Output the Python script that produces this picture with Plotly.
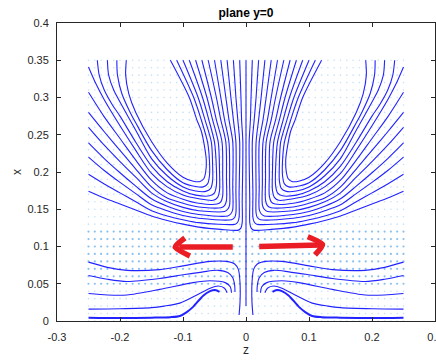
import numpy as np
import plotly.graph_objects as go

# ---------------- data (left half, z < 0) ----------------
# Upper family: U-shaped streamlines (left arm -> bottom -> right arm to top centre)
U1 = [(-0.190,0.350),(-0.191,0.330),(-0.186,0.305),(-0.175,0.280),(-0.150,0.241),(-0.125,0.212),(-0.100,0.193),(-0.085,0.188),(-0.074,0.187),(-0.067,0.191),(-0.064,0.200),(-0.063,0.215),(-0.066,0.235),(-0.071,0.255),(-0.078,0.270),(-0.090,0.300),(-0.120,0.350)]
U2 = [(-0.205,0.350),(-0.204,0.330),(-0.197,0.305),(-0.185,0.282),(-0.175,0.266),(-0.150,0.229),(-0.125,0.203),(-0.100,0.1855),(-0.080,0.1805),(-0.068,0.180),(-0.061,0.184),(-0.058,0.195),(-0.058,0.215),(-0.061,0.240),(-0.071,0.270),(-0.083,0.300),(-0.110,0.350)]
U3 = [(-0.220,0.350),(-0.218,0.330),(-0.210,0.310),(-0.200,0.294),(-0.175,0.256),(-0.150,0.218),(-0.125,0.195),(-0.100,0.180),(-0.080,0.1745),(-0.064,0.174),(-0.056,0.178),(-0.053,0.188),(-0.053,0.210),(-0.055,0.240),(-0.065,0.270),(-0.076,0.300),(-0.100,0.350)]
U4 = [(-0.236,0.350),(-0.233,0.330),(-0.225,0.310),(-0.212,0.290),(-0.200,0.275),(-0.175,0.240),(-0.150,0.208),(-0.125,0.187),(-0.100,0.1745),(-0.080,0.169),(-0.058,0.168),(-0.050,0.172),(-0.047,0.182),(-0.047,0.205),(-0.050,0.240),(-0.059,0.270),(-0.069,0.300),(-0.090,0.350)]
U5 = [(-0.250,0.341),(-0.238,0.318),(-0.225,0.297),(-0.200,0.262),(-0.175,0.229),(-0.150,0.198),(-0.125,0.180),(-0.100,0.169),(-0.075,0.164),(-0.052,0.162),(-0.045,0.166),(-0.042,0.175),(-0.042,0.200),(-0.044,0.240),(-0.053,0.270),(-0.062,0.300),(-0.080,0.350)]
U6 = [(-0.250,0.307),(-0.225,0.274),(-0.200,0.245),(-0.175,0.216),(-0.150,0.189),(-0.125,0.172),(-0.100,0.1635),(-0.075,0.158),(-0.046,0.157),(-0.040,0.160),(-0.037,0.168),(-0.037,0.195),(-0.038,0.240),(-0.047,0.270),(-0.055,0.300),(-0.070,0.350)]
U7 = [(-0.250,0.280),(-0.225,0.254),(-0.200,0.229),(-0.175,0.204),(-0.150,0.180),(-0.125,0.165),(-0.100,0.158),(-0.075,0.153),(-0.040,0.152),(-0.034,0.155),(-0.031,0.162),(-0.031,0.190),(-0.032,0.240),(-0.040,0.270),(-0.047,0.300),(-0.060,0.350)]
U8 = [(-0.250,0.260),(-0.225,0.236),(-0.200,0.214),(-0.175,0.193),(-0.150,0.172),(-0.125,0.160),(-0.100,0.1525),(-0.075,0.148),(-0.034,0.147),(-0.029,0.150),(-0.026,0.156),(-0.026,0.185),(-0.027,0.240),(-0.034,0.270),(-0.040,0.300),(-0.050,0.350)]
U9 = [(-0.250,0.239),(-0.225,0.218),(-0.200,0.199),(-0.175,0.181),(-0.150,0.164),(-0.125,0.154),(-0.100,0.147),(-0.075,0.143),(-0.029,0.141),(-0.024,0.144),(-0.021,0.150),(-0.021,0.180),(-0.021,0.240),(-0.027,0.270),(-0.032,0.300),(-0.040,0.350)]
U10 = [(-0.250,0.220),(-0.225,0.202),(-0.200,0.186),(-0.175,0.171),(-0.150,0.156),(-0.125,0.148),(-0.100,0.1415),(-0.075,0.138),(-0.023,0.136),(-0.018,0.139),(-0.016,0.145),(-0.016,0.175),(-0.016,0.240),(-0.020,0.270),(-0.024,0.300),(-0.030,0.350)]
U11 = [(-0.250,0.197),(-0.225,0.184),(-0.200,0.172),(-0.175,0.160),(-0.150,0.148),(-0.125,0.141),(-0.100,0.136),(-0.075,0.132),(-0.017,0.130),(-0.013,0.133),(-0.011,0.139),(-0.011,0.170),(-0.010,0.240),(-0.013,0.270),(-0.016,0.300),(-0.020,0.350)]
U12 = [(-0.250,0.174),(-0.225,0.165),(-0.200,0.157),(-0.175,0.149),(-0.150,0.141),(-0.125,0.135),(-0.100,0.130),(-0.075,0.126),(-0.040,0.123),(-0.012,0.122),(-0.008,0.125),(-0.006,0.132),(-0.006,0.160),(-0.005,0.240),(-0.007,0.270),(-0.008,0.300),(-0.010,0.350)]

# Central vertical streamline
CENTER = [(0.0,0.350),(0.0,0.020)]

# Lower family: streamlines from the side edge towards the centre
L1 = [(-0.250,0.079),(-0.220,0.072),(-0.189,0.068),(-0.137,0.069),(-0.100,0.074),(-0.057,0.080),(-0.031,0.080),(-0.018,0.0765),(-0.012,0.069),(-0.0095,0.051),(-0.0095,0.025),(-0.011,0.008)]
L2 = [(-0.250,0.061),(-0.220,0.056),(-0.189,0.053),(-0.137,0.057),(-0.100,0.062),(-0.068,0.066),(-0.044,0.068),(-0.029,0.065),(-0.021,0.058),(-0.018,0.048),(-0.0175,0.039)]
L3 = [(-0.250,0.037),(-0.220,0.035),(-0.189,0.035),(-0.137,0.0425),(-0.084,0.0515),(-0.057,0.054),(-0.033,0.0515),(-0.025,0.046),(-0.023,0.038)]
L4 = [(-0.250,0.016),(-0.200,0.0165),(-0.150,0.018),(-0.130,0.020),(-0.105,0.024),(-0.078,0.035),(-0.057,0.044),(-0.044,0.047),(-0.034,0.044),(-0.030,0.038)]
L5 = [(-0.250,0.0045),(-0.200,0.004),(-0.150,0.0045),(-0.120,0.0052),(-0.105,0.0068),(-0.094,0.012),(-0.084,0.019),(-0.068,0.034),(-0.057,0.040),(-0.049,0.0415),(-0.042,0.039)]

# Quiver grid (velocity arrows are too small to read; drawn as dots)
QUIVER_Z = [round(v, 2) for v in np.arange(-0.25, 0.2501, 0.01)]
QUIVER_X = [round(v, 2) for v in np.arange(0.0, 0.3501, 0.01)]
BAND_X = [0.05, 0.06, 0.07, 0.08, 0.09, 0.10, 0.11, 0.12]

# Red annotation arrows (hand drawn): shaft and head polylines
ARROW_L_SHAFT = [(-0.021,0.0993),(-0.106,0.0993)]
ARROW_L_HEAD = [(-0.097,0.1114),(-0.1125,0.0993),(-0.089,0.0872)]
ARROW_R_SHAFT = [(0.021,0.1000),(0.118,0.1020)]
ARROW_R_HEAD = [(0.098,0.1130),(0.1215,0.1025),(0.1095,0.0886)]

X_TICKS = [-0.3, -0.2, -0.1, 0, 0.1, 0.2, 0.3]
X_TICK_LABELS = ["-0.3", "-0.2", "-0.1", "0", "0.1", "0.2", "0.3"]
Y_TICKS = [0, 0.05, 0.1, 0.15, 0.2, 0.25, 0.3, 0.35, 0.4]
Y_TICK_LABELS = ["0", "0.05", "0.1", "0.15", "0.2", "0.25", "0.3", "0.35", "0.4"]

# ---------------- figure ----------------
BLUE = "rgb(35,35,255)"
fig = go.Figure()

qz, qx, bz, bx = [], [], [], []
for xv in QUIVER_X:
    for zv in QUIVER_Z:
        if xv in BAND_X:
            bz.append(zv); bx.append(xv)
        else:
            qz.append(zv); qx.append(xv)
fig.add_trace(go.Scatter(x=qz, y=qx, mode="markers",
                         marker=dict(size=1.6, color="rgba(110,180,235,0.4)"),
                         hoverinfo="skip", showlegend=False))
fig.add_trace(go.Scatter(x=bz, y=bx, mode="markers",
                         marker=dict(size=2.2, color="rgba(60,150,225,0.6)"),
                         hoverinfo="skip", showlegend=False))

def add_line(pts, width=1.1, mirror=True):
    zs = [p[0] for p in pts]
    xs = [p[1] for p in pts]
    fig.add_trace(go.Scatter(x=zs, y=xs, mode="lines",
                             line=dict(color=BLUE, width=width, shape="spline", smoothing=0.8),
                             hoverinfo="skip", showlegend=False))
    if mirror:
        fig.add_trace(go.Scatter(x=[-z for z in zs], y=xs, mode="lines",
                                 line=dict(color=BLUE, width=width, shape="spline", smoothing=0.8),
                                 hoverinfo="skip", showlegend=False))

for line in [U1, U2, U3, U4, U5, U6, U7, U8, U9, U10, U11, U12, L1, L2, L3, L4]:
    add_line(line)
add_line(L5, width=2.0)
add_line(CENTER, mirror=False)

RED = "#ea1c24"
for pts in [ARROW_L_SHAFT, ARROW_L_HEAD, ARROW_R_SHAFT, ARROW_R_HEAD]:
    fig.add_trace(go.Scatter(x=[p[0] for p in pts], y=[p[1] for p in pts], mode="lines",
                             line=dict(color=RED, width=5.5, shape="spline", smoothing=0.6),
                             hoverinfo="skip", showlegend=False))

FONT = "Liberation Sans, Arial, Helvetica, sans-serif"
axis_common = dict(showgrid=False, zeroline=False, showline=True, linecolor="#262626",
                   linewidth=1, mirror="ticks", ticks="inside", ticklen=4,
                   tickcolor="#262626", tickwidth=1, automargin=False,
                   ticklabeloverflow="allow",
                   tickfont=dict(family=FONT, size=11, color="#262626"))
fig.update_layout(
    width=436, height=360,
    margin=dict(l=57, r=1, t=23, b=39, autoexpand=False),
    paper_bgcolor="white", plot_bgcolor="white",
    title=dict(text="<b>plane y=0</b>", x=0.5, xref="paper", xanchor="center",
               y=1 - 12.5 / 360, yref="container", yanchor="middle",
               font=dict(family=FONT, size=12, color="black")),
    xaxis=dict(range=[-0.3, 0.3], tickvals=X_TICKS, ticktext=X_TICK_LABELS,
               ticklabelstandoff=6,
               title=dict(text="z", font=dict(family=FONT, size=12, color="#262626"), standoff=2),
               **axis_common),
    yaxis=dict(range=[0, 0.4], tickvals=Y_TICKS, ticktext=Y_TICK_LABELS,
               ticklabelstandoff=5,
               title=dict(text="x", font=dict(family=FONT, size=12, color="#262626"), standoff=3),
               **axis_common),
)
fig.write_html("out.html", config={"displayModeBar": False},
               post_script="document.body.style.margin='0';document.body.style.padding='0';")
